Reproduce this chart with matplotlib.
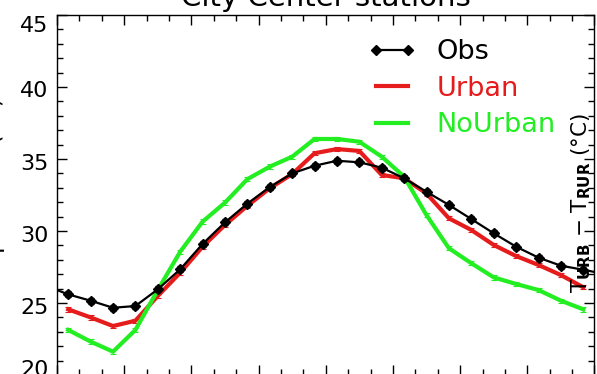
import numpy as np
import matplotlib
matplotlib.use("Agg")
import matplotlib.pyplot as plt
from matplotlib.ticker import MultipleLocator, FixedLocator
from matplotlib.lines import Line2D
from matplotlib.transforms import ScaledTranslation

# Hourly means (local time); observed series carries one extra point on each side
obs_hours = np.arange(-0.5, 25.0, 1.0)
model_hours = np.arange(0.5, 24.0, 1.0)

obs = [26.2, 25.6, 25.16, 24.67, 24.79, 25.95, 27.34, 29.1, 30.6, 31.9,
       33.05, 34.0, 34.53, 34.88, 34.77, 34.4, 33.66, 32.72, 31.81, 30.83,
       29.84, 28.91, 28.15, 27.59, 27.31, 27.0]
obs_err = [0.2, 0.2, 0.2, 0.2, 0.2, 0.2, 0.2, 0.2, 0.2, 0.2,
           0.2, 0.2, 0.2, 0.2, 0.2, 0.2, 0.2, 0.2, 0.2, 0.2,
           0.2, 0.2, 0.2, 0.2, 0.2, 0.2]

urban = [24.56, 24.0, 23.4, 23.77, 25.49, 27.1, 28.91, 30.42, 31.75, 32.97,
         33.95, 35.4, 35.69, 35.56, 33.89, 33.66, 32.6, 30.88, 30.07, 29.03,
         28.26, 27.64, 26.94, 26.09]
urban_err = [0.15, 0.15, 0.15, 0.15, 0.15, 0.15, 0.15, 0.15, 0.15, 0.15,
             0.15, 0.15, 0.15, 0.15, 0.15, 0.15, 0.15, 0.15, 0.15, 0.15,
             0.15, 0.15, 0.15, 0.15]

nourban = [23.13, 22.32, 21.62, 23.13, 25.9, 28.56, 30.65, 31.97, 33.6, 34.47,
           35.16, 36.39, 36.39, 36.2, 35.16, 33.77, 31.1, 28.8, 27.76, 26.78,
           26.32, 25.9, 25.16, 24.56]
nourban_err = [0.15, 0.15, 0.15, 0.15, 0.15, 0.15, 0.15, 0.15, 0.15, 0.15,
               0.15, 0.15, 0.15, 0.15, 0.15, 0.15, 0.15, 0.15, 0.15, 0.15,
               0.15, 0.15, 0.15, 0.15]

series_labels = ["Obs", "Urban", "NoUrban"]
y_ticks = [20, 25, 30, 35, 40, 45]
title = "City Center stations"
left_label = "Temperature (°C)"
right_label = r"T$_{\mathbf{URB}}$ $-$ T$_{\mathbf{RUR}}$ (°C)"

RED = "#e61c1c"
GREEN = "#22ee22"

plt.rcParams["font.family"] = ["DejaVu Sans"]

fig = plt.figure(figsize=(5.97, 3.74), dpi=100)
ax = fig.add_axes([0.0955, -0.0027, 0.9003, 0.9626])

ax.errorbar(model_hours, urban, yerr=urban_err, color=RED, lw=3.0,
            elinewidth=0.8, capsize=2.5, capthick=0.8, zorder=2)
ax.errorbar(model_hours, nourban, yerr=nourban_err, color=GREEN, lw=3.0,
            elinewidth=0.8, capsize=2.5, capthick=0.8, zorder=3)
ax.errorbar(obs_hours, obs, yerr=obs_err, color="black", lw=1.6,
            marker="D", ms=5, elinewidth=0.9, capsize=2.5, capthick=0.9,
            zorder=4)

ax.set_xlim(0, 24)
ax.set_ylim(20, 45)
ax.xaxis.set_major_locator(MultipleLocator(3))
ax.xaxis.set_minor_locator(MultipleLocator(1))
ax.yaxis.set_major_locator(FixedLocator(y_ticks))
ax.yaxis.set_minor_locator(MultipleLocator(1))
ax.tick_params(which="both", direction="in", top=True, right=True,
               labelsize=16, width=1.0, pad=6, labelbottom=False)
ax.tick_params(which="major", length=7)
ax.tick_params(which="minor", length=4)
for s in ax.spines.values():
    s.set_linewidth(1.0)

# pull the end labels of the y axis inside the frame
for tick, val in zip(ax.yaxis.get_major_ticks(len(y_ticks)), y_ticks):
    dy = 0.0
    if val == y_ticks[-1]:
        dy = -0.09
    elif val == y_ticks[0]:
        dy = 0.07
    else:
        dy = -0.025
    lab = tick.label1
    lab.set_transform(lab.get_transform() +
                      ScaledTranslation(0, dy, fig.dpi_scale_trans))

handles = [
    Line2D([], [], color="black", lw=1.6, marker="D", ms=5),
    Line2D([], [], color=RED, lw=3.0),
    Line2D([], [], color=GREEN, lw=3.0),
]
leg = ax.legend(handles, series_labels, loc="upper left",
                bbox_to_anchor=(0.578, 0.933), frameon=False, fontsize=19.5,
                handlelength=1.8, handletextpad=0.75, labelspacing=0.39,
                borderpad=0, borderaxespad=0, numpoints=2)
for txt, c in zip(leg.get_texts(), ["black", RED, GREEN]):
    txt.set_color(c)

fig.text(0.5455, 0.983, title, ha="center", va="baseline", fontsize=21)
fig.text(5 / 597, 0.468, left_label, rotation=90, ha="right", va="center",
         fontsize=17)
fig.text(593 / 597, 0.457, right_label, rotation=90, ha="right", va="center",
         fontsize=15.5, zorder=10)

fig.savefig("out.png", dpi=100)
